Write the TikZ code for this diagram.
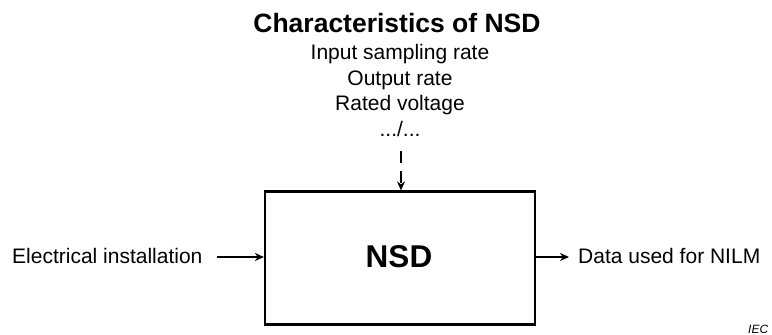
\documentclass[tikz,border=0pt]{standalone}
\usepackage{fontspec}
\setmainfont{Liberation Sans}
\usetikzlibrary{arrows.meta}
\begin{document}
\begin{tikzpicture}[x=1pt,y=-1pt,
  lbl/.style={inner sep=0pt,font=\fontsize{21}{23}\selectfont},
  conn/.style={line width=2.6pt,-{Stealth[length=9pt,width=8pt]}},
  boxst/.style={draw,line width=2.2pt,minimum width=270pt,minimum height=133pt,inner sep=0pt}]
\useasboundingbox (0,0) rectangle (772,335);
\node[boxst] (nsd) at (400,258) {};
\node[inner sep=0pt,font=\fontsize{31.5}{33}\bfseries\selectfont,anchor=base] (nsdt) at (399,267) {NSD};
\node[inner sep=0pt,font=\fontsize{26.5}{28}\bfseries\selectfont,anchor=base] (title) at (397,32) {Characteristics of NSD};
\node[lbl,anchor=base] (t1) at (400,59) {Input sampling rate};
\node[lbl,anchor=base] (t2) at (400,85) {Output rate};
\node[lbl,anchor=base] (t3) at (400,110) {Rated voltage};
\node[lbl,anchor=base] (t4) at (400,136) {.../...};
\coordinate (dtop) at (401,151);
\draw[conn,dash pattern=on 12pt off 8pt] (dtop) -- (nsd.north -| dtop);
\node[lbl,anchor=base west] (ein) at (12,263) {Electrical installation};
\coordinate (ina) at (217,257);
\draw[conn] (ina) -- (nsd.west |- ina);
\node[lbl,anchor=base west] (dout) at (578,263) {Data used for NILM};
\coordinate (outa) at (569,257);
\draw[conn] (nsd.east |- ina) -- (outa);
\node[inner sep=0pt,anchor=base west,font=\fontsize{12}{13}\itshape\selectfont] (iec) at (748,333) {IEC};
\end{tikzpicture}
\end{document}
